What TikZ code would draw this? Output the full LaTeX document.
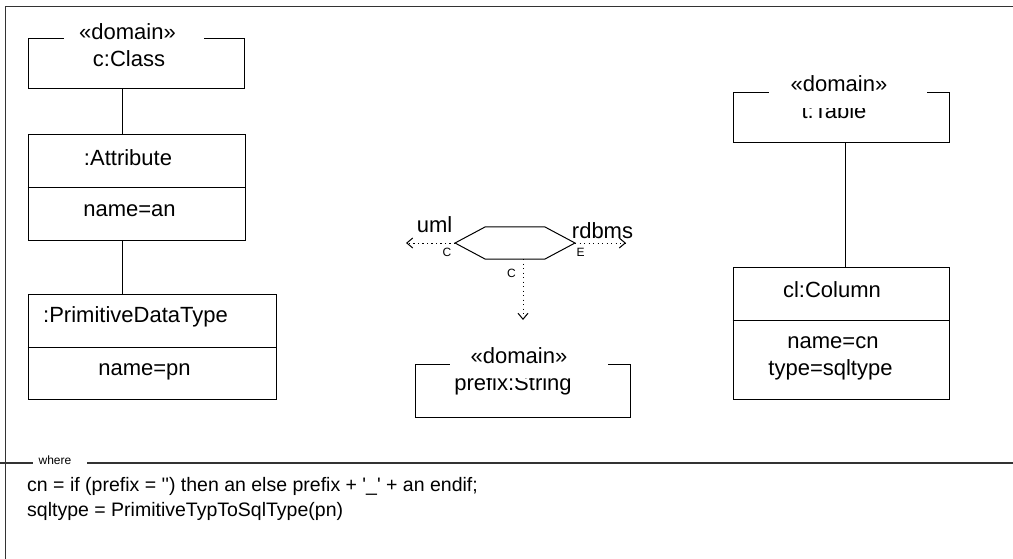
\documentclass[tikz,border=0pt]{standalone}
\usepackage{fontspec}
\setmainfont{Liberation Sans}
\usetikzlibrary{arrows.meta}
\begin{document}
\begin{tikzpicture}[x=1pt,y=-1pt,
  lbl/.style={font=\fontsize{22}{26}\selectfont, inner sep=0, anchor=base},
  small/.style={font=\fontsize{12}{14}\selectfont, inner sep=0, anchor=base},
  body/.style={font=\fontsize{19.5}{24}\selectfont, inner sep=0, anchor=base west},
  umlbox/.style={draw, line width=1pt, inner sep=0},
  link/.style={line width=1pt},
  dep/.style={line width=1pt, dash pattern=on 1.2pt off 3.3pt, -{Straight Barb[length=6pt,width=10pt,line width=1pt]}},
  frameline/.style={line width=1.6pt, draw=black!80},
  cover/.style={fill=white}]
\useasboundingbox (0,0) rectangle (1013,559);
% frame
\draw[frameline] (5.5,559) -- (5.5,6.5) -- (1013,6.5);
\draw[frameline] (0,463) -- (33,463);
\draw[frameline] (87,463) -- (1013,463);
\node[small] (where) at (55,464) {where};
% helper x positions
\coordinate (lx) at (122,0);
\coordinate (rx) at (845,0);
% left column
\node[umlbox, minimum width=216pt, minimum height=50pt] (cls) at (136,64) {};
\node[lbl] (clsn) at (129,67) {c:Class};
\fill[cover] (64,26) rectangle (204,50);
\node[lbl] (clss) at (127.5,40) {«domain»};
\node[umlbox, minimum width=217pt, minimum height=105pt] (attr) at (136.5,187.5) {};
\draw[link] (attr.west |- 0,188) -- (attr.east |- 0,188);
\node[lbl] (attrn) at (128,166) {:Attribute};
\node[lbl] (attrv) at (129.5,217) {name=an};
\node[umlbox, minimum width=248pt, minimum height=105pt] (pdt) at (152,346.5) {};
\draw[link] (pdt.west |- 0,347) -- (pdt.east |- 0,347);
\node[lbl, anchor=base west] (pdtn) at (43,322) {:PrimitiveDataType};
\node[lbl] (pdtv) at (144.5,375) {name=pn};
\draw[link] (cls.south -| lx) -- (attr.north -| lx);
\draw[link] (attr.south -| lx) -- (pdt.north -| lx);
% right column
\node[umlbox, minimum width=216pt, minimum height=50pt] (tbl) at (841,118) {};
\node[lbl] (tbln) at (834,119) {t:Table};
\fill[cover] (769,78) rectangle (927,108);
\node[lbl] (tbls) at (839,92) {«domain»};
\node[umlbox, minimum width=216pt, minimum height=132pt] (col) at (841,333) {};
\draw[link] (col.west |- 0,320) -- (col.east |- 0,320);
\node[lbl] (coln) at (832,297) {cl:Column};
\node[lbl] (colv1) at (833,348) {name=cn};
\node[lbl] (colv2) at (830.5,375) {type=sqltype};
\draw[link] (tbl.south -| rx) -- (col.north -| rx);
% middle
\node[umlbox, minimum width=215pt, minimum height=53pt] (str) at (522.5,390.5) {};
\node[lbl] (strn) at (513,390) {prefix:String};
\fill[cover] (450,348) rectangle (608,378);
\node[lbl] (strs) at (519,363) {«domain»};
\coordinate (h1) at (455,243);
\coordinate (h2) at (485,227);
\coordinate (h3) at (545,227);
\coordinate (h4) at (575,243);
\coordinate (h5) at (545,259);
\coordinate (h6) at (485,259);
\coordinate (hb) at (523,259);
\draw[link] (h1) -- (h2) -- (h3) -- (h4) -- (h5) -- (h6) -- cycle;
\coordinate (umlend) at (406,243);
\coordinate (rdbend) at (626,243);
\coordinate (cend) at (523,320);
\draw[dep] (h1) -- (umlend);
\draw[dep] (h4) -- (rdbend);
\draw[dep] (hb) -- (cend);
\node[lbl] (uml) at (434.5,233) {uml};
\node[lbl] (rdbms) at (602.5,238) {rdbms};
\node[small] (c1) at (447,256) {C};
\node[small] (e1) at (580.5,256) {E};
\node[small] (c2) at (511.5,277) {C};
% where clause
\node[body] (w1) at (27,491) {cn = if (prefix = \textquotesingle\textquotesingle) then an else prefix + \textquotesingle\_\textquotesingle{} + an endif;};
\node[body] (w2) at (27,516) {sqltype = PrimitiveTypToSqlType(pn)};
\end{tikzpicture}
\end{document}
